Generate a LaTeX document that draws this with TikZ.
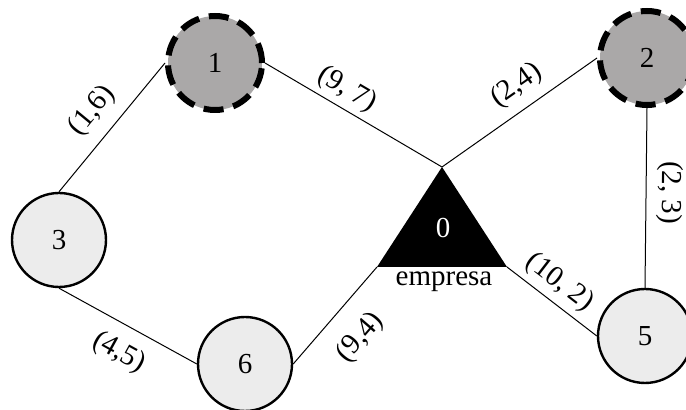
\documentclass[tikz,border=0pt]{standalone}
\usepackage{fontspec}
\setmainfont{Liberation Serif}
\usetikzlibrary{shapes.geometric}
\definecolor{darkv}{RGB}{170,168,168}
\definecolor{lightv}{RGB}{236,236,236}
\begin{document}
\begin{tikzpicture}[
        x = 0.5pt, y = -0.5pt,
        every node/.style = {font=\fontsize{14.5}{17}\selectfont},
        v/.style = {draw, line width=1.2pt, circle, minimum size=47pt, inner sep=0pt, fill=lightv},
        dv/.style = {v, fill=darkv, line width=3pt, dash pattern=on 10pt off 5pt},
        tri/.style = {fill=black, isosceles triangle, shape border rotate=90,
            isosceles triangle stretches, minimum width=65pt, minimum height=50pt,
            inner sep=0pt, outer sep=0pt},
        e/.style = {line width=0.5pt},
        w/.style = {sloped, inner sep=0pt}
    ]
    \useasboundingbox (0,0) rectangle (686,410);
    %--- Draw Vertices ---%
        \node (n1) [dv] at (215,63) {1};
        \node (n2) [dv] at (647,58) {2};
        \node (n3) [v] at (59,240) {3};
        \node (n5) [v] at (645,336) {5};
        \node (n6) [v] at (245,364) {6};
        \node (t) [tri, anchor=apex] at (442,167) {};
        \node (zero) [text=white] at (443,228) {0};
        \node (emp) at (444,282) {empresa};
        %--- Draw Edges ---%
        \draw[e] (n3.north) to node [w, above=6pt]{(1,6)} (n1.west);
        \draw[e] (n1.east) to node [w, above=2.5pt, pos=0.41]{(9, 7)} (t.apex);
        \draw[e] (t.apex) to node [w, above=5pt, pos=0.57]{(2,4)} (n2.west);
        \draw[e] (n2.south) to node [w, allow upside down, above=5pt, pos=0.47]{(2, 3)} (n5.north);
        \draw[e] (t.right corner) to node [w, above=3pt, pos=0.45]{(10, 2)} (n5.west);
        \draw[e] (n6.east) to node [w, below=10pt]{(9,4)} (t.left corner);
        \draw[e] (n3.south) to node [w, below=7pt, pos=0.53]{(4,5)} (n6.west);
    \end{tikzpicture}
\end{document}
